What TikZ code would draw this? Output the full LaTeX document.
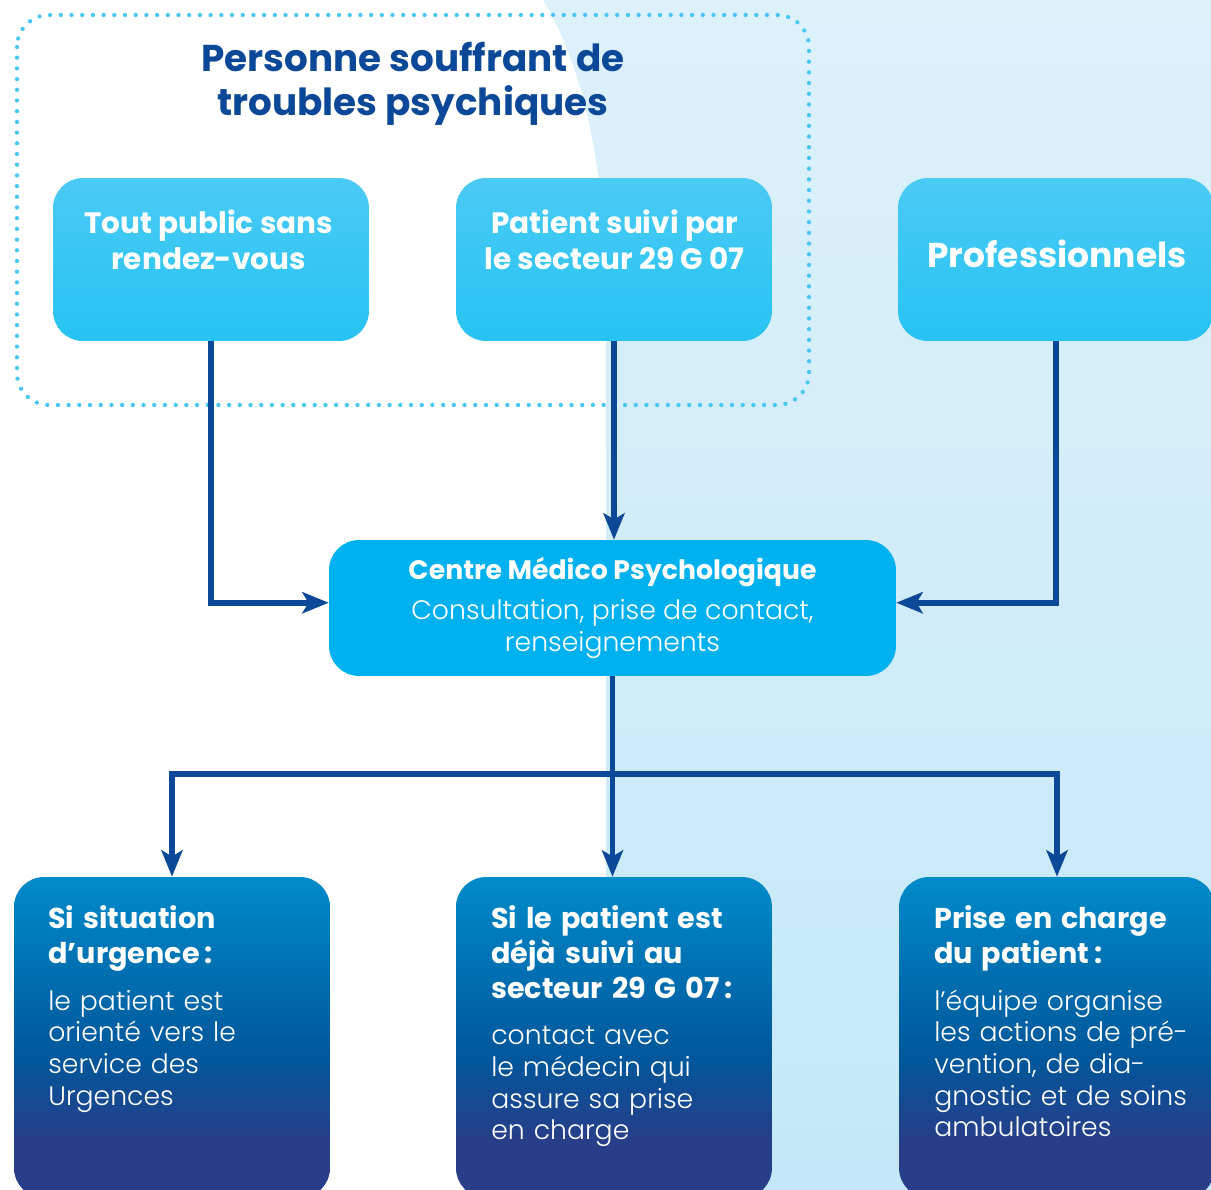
\documentclass[tikz,border=0pt]{standalone}
\usepackage{fontspec}
\setmainfont{Poppins}[UprightFont=* Light, BoldFont=* Bold]
\usetikzlibrary{arrows.meta}

\definecolor{navy}{HTML}{0C4898}
\definecolor{dots}{HTML}{48C7F3}
\definecolor{sky}{HTML}{00B1EF}
\definecolor{skytop}{HTML}{4ACAF4}
\definecolor{skybot}{HTML}{27C3F3}
\definecolor{bgtop}{HTML}{DDF1FB}
\definecolor{bgbot}{HTML}{C4E8F9}
\definecolor{btop}{HTML}{008BCA}
\definecolor{bmid}{HTML}{00579B}
\definecolor{bdark}{HTML}{283E89}
\pgfdeclareverticalshading{deepblue}{100bp}{color(0bp)=(bdark); color(34bp)=(bdark); color(47bp)=(bmid); color(75bp)=(btop); color(100bp)=(btop)}
\newcommand{\headfont}{\fontsize{16.3}{19.8}\selectfont\bfseries}

\begin{document}
\begin{tikzpicture}[x=0.02cm, y=-0.02cm,
    topbox/.style={rounded corners=0.6cm, minimum width=6.32cm, minimum height=3.26cm, top color=skytop, bottom color=skybot},
    botbox/.style={rounded corners=0.6cm, minimum width=6.32cm, minimum height=6.42cm, shading=deepblue},
    toptext/.style={anchor=north, align=center, text=white, inner sep=0pt, font=\fontsize{16.8}{20.2}\selectfont\bfseries},
    bottext/.style={anchor=north west, align=left, text width=5.8cm, text=white, inner sep=0pt, font=\fontsize{15.2}{18}\selectfont},
    link/.style={navy, line width=3.3pt, -{Stealth[length=15pt, width=12pt, inset=3.5pt]}}]
    \useasboundingbox (0,0) rectangle (1211,1190);
    % background
    \fill[white] (0,0) rectangle (1211,1190);
    \path[top color=bgtop, bottom color=bgbot] (543,0) .. controls (580,60) and (606,160) .. (606,300) -- (606,1190) -- (1211,1190) -- (1211,0) -- cycle;
    \draw[dots, line width=2.45pt, line cap=round, dash pattern=on 0pt off 6.09pt, rounded corners=0.64cm] (17,15) rectangle (809,405);
    \node[anchor=north, align=center, text=navy, inner sep=0pt, font=\fontsize{21.25}{25.2}\selectfont\bfseries] (titre) at (413,42) {Personne souffrant de\\troubles psychiques};

    % top row
    \node[topbox] (tout) at (211,259.5) {};
    \node[topbox] (patient) at (614,259.5) {};
    \node[topbox] (pro) at (1056,259.5) {};
    \node[toptext] (tout-txt) at (208.5,210) {Tout public sans\\rendez-vous};
    \node[toptext] (patient-txt) at (614.5,210) {Patient suivi par\\le secteur 29 G 07};
    \node[toptext, font=\fontsize{19.6}{24}\selectfont\bfseries] (pro-txt) at (1057,240) {Professionnels};

    % centre
    \node[rounded corners=0.6cm, minimum width=11.34cm, minimum height=2.72cm, fill=sky, text=white, align=center, font=\fontsize{15.2}{18.1}\selectfont] (cmp) at (612.5,608) {{\bfseries Centre Médico Psychologique}\\[4.3pt]Consultation, prise de contact,\\renseignements};

    % bottom row
    \node[botbox] (urg) at (172,1037.5) {};
    \node[botbox] (suivi) at (614,1037.5) {};
    \node[botbox] (prise) at (1057,1037.5) {};
    \node[bottext] (urg-txt) at (48,905.5) {{\headfont Si situation\\d’urgence\,:\par}\vspace{8.5pt}le patient est\\orienté vers le\\service des\\Urgences};
    \node[bottext] (suivi-txt) at (491,905.5) {{\headfont Si le patient est\\déjà suivi au\\secteur 29 G 07\,:\par}\vspace{8.5pt}contact avec\\le médecin qui\\assure sa prise\\en charge};
    \node[bottext] (prise-txt) at (934,905.5) {{\headfont Prise en charge\\du patient\,:\par}\vspace{8.5pt}l’équipe organise\\les actions de pré-\\vention, de dia-\\gnostic et de soins\\ambulatoires};

    % links
    \draw[link] (tout.south) |- ([yshift=3pt]cmp.west);
    \draw[link] (patient.south) -- (patient.south |- cmp.north);
    \draw[link] (pro.south) |- ([yshift=3pt]cmp.east);
    \coordinate (fork) at (613,774);
    \draw[link] (cmp.south) -- (cmp.south |- suivi.north);
    \draw[link] (fork) -| (urg.north);
    \draw[link] (fork) -| (prise.north);
\end{tikzpicture}
\end{document}
